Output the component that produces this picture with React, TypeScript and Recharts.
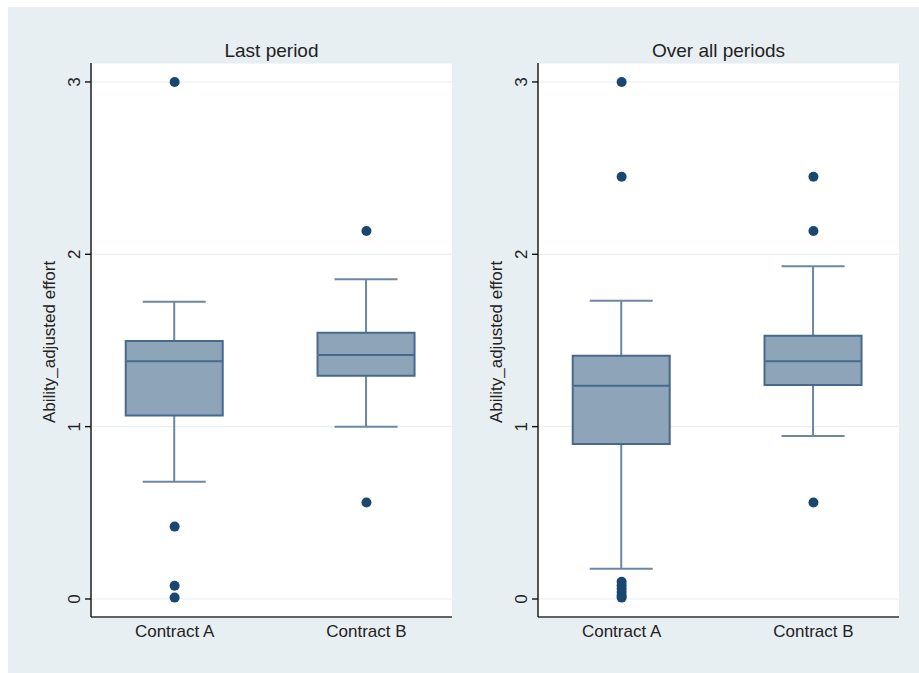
import React from 'react';
import { ComposedChart, Bar, Scatter, XAxis, YAxis, CartesianGrid } from 'recharts';

const categories = ['Contract A', 'Contract B'];
const positions = [1, 2];
const yTicks = [0, 1, 2, 3];

// Last period
const lastLow = [0.68, 1.0];
const lastQ1 = [1.065, 1.295];
const lastMedian = [1.38, 1.415];
const lastQ3 = [1.497, 1.545];
const lastHigh = [1.725, 1.855];
const lastOutliersA = [3.0, 0.42, 0.077, 0.008];
const lastOutliersB = [2.135, 0.56];

// Over all periods
const allLow = [0.175, 0.945];
const allQ1 = [0.9, 1.242];
const allMedian = [1.238, 1.38];
const allQ3 = [1.412, 1.528];
const allHigh = [1.731, 1.93];
const allOutliersA = [3.0, 2.45, 0.1, 0.08, 0.06, 0.04, 0.02, 0.008];
const allOutliersB = [2.45, 2.135, 0.56];

const FONT = '"Liberation Sans", Arial, Helvetica, sans-serif';
const BG = '#e8eff2';
const BOX_FILL = '#8da4b9';
const BOX_STROKE = '#46698c';
const WHISKER = '#6a88a4';
const DOT = '#1a476f';

const Whisker = (props: any) => {
  const { x, y, width, height } = props;
  const cx = x + width / 2;
  return (
    <g stroke={WHISKER} strokeWidth={2}>
      <line x1={cx} x2={cx} y1={y} y2={y + height} />
      <line x1={x} x2={x + width} y1={y} y2={y} />
      <line x1={x} x2={x + width} y1={y + height} y2={y + height} />
    </g>
  );
};

const MedianLine = (props: any) => {
  const { cx, cy } = props;
  return <line x1={cx - 48} x2={cx + 48} y1={cy} y2={cy} stroke={BOX_STROKE} strokeWidth={2} />;
};

const Dot = (props: any) => <circle cx={props.cx} cy={props.cy} r={5} fill={DOT} />;

const YTick = ({ x, y, payload }: any) => (
  <text
    x={x}
    y={y}
    transform={`rotate(-90 ${x} ${y})`}
    textAnchor="middle"
    fontSize={17}
    fontFamily={FONT}
    fill="#222"
  >
    {payload.value}
  </text>
);

const YTitle = ({ viewBox }: any) => {
  const x = viewBox.x + 4;
  const y = viewBox.y + viewBox.height / 2 + 2;
  return (
    <text
      x={x}
      y={y}
      transform={`rotate(-90 ${x} ${y})`}
      textAnchor="middle"
      fontSize={17}
      fontFamily={FONT}
      fill="#222"
    >
      Ability_adjusted effort
    </text>
  );
};

interface PanelProps {
  title: string;
  left: number;
  low: number[];
  q1: number[];
  median: number[];
  q3: number[];
  high: number[];
  outliers: number[][];
}

const BoxPanel = ({ title, left, low, q1, median, q3, high, outliers }: PanelProps) => {
  const rows = categories.map((name, i) => ({
    name,
    x: positions[i],
    whisker: [low[i], high[i]],
    box: [q1[i], q3[i]],
    med: median[i],
  }));
  const points = outliers.flatMap((vals, i) => vals.map((v) => ({ x: positions[i], v })));
  const xDomain = [0.564, 2.446];

  return (
    <div style={{ position: 'absolute', left, top: 0, width: 455, height: 666 }}>
      <div
        style={{
          position: 'absolute',
          left: 83,
          width: 361,
          top: 33,
          textAlign: 'center',
          fontFamily: FONT,
          fontSize: 19,
          color: '#222',
          lineHeight: '22px',
        }}
      >
        {title}
      </div>
      <ComposedChart
        width={455}
        height={666}
        data={rows}
        margin={{ top: 56, right: 11, bottom: 26, left: 43 }}
      >
        <CartesianGrid xAxisId="main" vertical={false} stroke="#e4edf1" fill="#ffffff" />
        <XAxis
          xAxisId="main"
          dataKey="x"
          type="number"
          domain={xDomain}
          allowDataOverflow
          ticks={positions}
          tickFormatter={(v) => categories[positions.indexOf(v)]}
          tickLine={false}
          tickSize={0}
          tickMargin={8}
          height={30}
          axisLine={{ stroke: '#333', strokeWidth: 1.6 }}
          tick={{ fontSize: 17, fontFamily: FONT, fill: '#222' }}
        />
        <XAxis
          xAxisId="box"
          dataKey="x"
          type="number"
          domain={xDomain}
          allowDataOverflow
          height={0}
          hide
        />
        <YAxis
          type="number"
          domain={[-0.1045, 3.11]}
          allowDataOverflow
          ticks={yTicks}
          width={40}
          tickSize={6}
          tickMargin={5}
          axisLine={{ stroke: '#111', strokeWidth: 1.4 }}
          tickLine={{ stroke: '#111', strokeWidth: 1.4 }}
          tick={<YTick />}
          label={{ content: <YTitle /> }}
        />
        <Bar
          xAxisId="main"
          dataKey="whisker"
          barSize={63}
          shape={<Whisker />}
          isAnimationActive={false}
        />
        <Bar
          xAxisId="box"
          dataKey="box"
          barSize={97}
          fill={BOX_FILL}
          stroke={BOX_STROKE}
          strokeWidth={2}
          isAnimationActive={false}
        />
        <Scatter xAxisId="box" dataKey="med" shape={<MedianLine />} isAnimationActive={false} />
        <Scatter xAxisId="main" data={points} dataKey="v" shape={<Dot />} isAnimationActive={false} />
      </ComposedChart>
    </div>
  );
};

export default function App() {
  return (
    <div
      style={{
        position: 'fixed',
        left: 8,
        top: 7,
        width: 911,
        height: 666,
        background: BG,
        overflow: 'hidden',
      }}
    >
      <BoxPanel
        title="Last period"
        left={0}
        low={lastLow}
        q1={lastQ1}
        median={lastMedian}
        q3={lastQ3}
        high={lastHigh}
        outliers={[lastOutliersA, lastOutliersB]}
      />
      <BoxPanel
        title="Over all periods"
        left={447}
        low={allLow}
        q1={allQ1}
        median={allMedian}
        q3={allQ3}
        high={allHigh}
        outliers={[allOutliersA, allOutliersB]}
      />
    </div>
  );
}
